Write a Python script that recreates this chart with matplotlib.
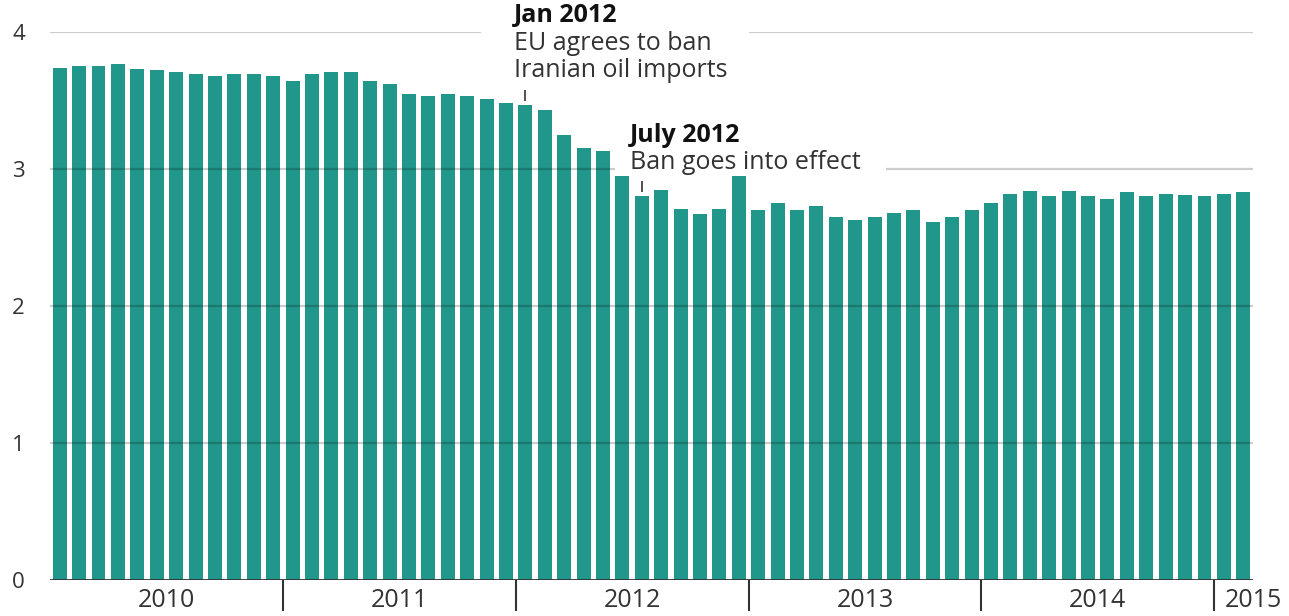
import numpy as np
import matplotlib
matplotlib.use('Agg')
import matplotlib.pyplot as plt

plt.rcParams['font.family'] = ['Open Sans', 'DejaVu Sans']

# monthly values, Jan 2010 .. Feb 2015 (million barrels per day)
months = [f'{y}-{m:02d}' for y in range(2010, 2016) for m in range(1, 13)][:62]
values = [
    3.74, 3.75, 3.75, 3.77, 3.73, 3.72, 3.71, 3.69, 3.68, 3.69, 3.69, 3.68,  # 2010
    3.64, 3.69, 3.71, 3.71, 3.64, 3.62, 3.55, 3.53, 3.55, 3.53, 3.51, 3.48,  # 2011
    3.47, 3.43, 3.25, 3.15, 3.13, 2.95, 2.80, 2.85, 2.71, 2.67, 2.71, 2.95,  # 2012
    2.70, 2.75, 2.70, 2.73, 2.65, 2.63, 2.65, 2.68, 2.70, 2.61, 2.65, 2.70,  # 2013
    2.75, 2.82, 2.84, 2.80, 2.84, 2.80, 2.78, 2.83, 2.80, 2.82, 2.81, 2.80,  # 2014
    2.82, 2.83,                                                              # 2015
]
years = ['2010', '2011', '2012', '2013', '2014', '2015']
year_label_pos = [5.5, 17.5, 29.5, 41.5, 53.5, 61.5]
year_bounds = [11.5, 23.5, 35.5, 47.5, 59.5]
yticks = [0, 1, 2, 3, 4]

notes = [
    ('2012-01', 'Jan 2012', ['EU agrees to ban', 'Iranian oil imports']),
    ('2012-07', 'July 2012', ['Ban goes into effect']),
]

teal = '#21968a'
ink = '#333333'

fig = plt.figure(figsize=(12.89, 6.16), dpi=100)
ax = fig.add_axes([50 / 1289, 1 - 580 / 616, 1203 / 1289, 548 / 616])

x = np.arange(len(values))
ax.bar(x, values, width=0.72, color=teal, zorder=2)

ax.set_xlim(-0.5, len(values) - 0.5)
ax.set_ylim(0, 4)

# gridlines, broken where the notes sit
grid_kw = dict(color='black', alpha=0.2, linewidth=1.6, zorder=3)
ax.hlines(4, -0.5, 21.7, **grid_kw)
ax.hlines(4, 35.5, 61.5, **grid_kw)
ax.hlines(3, -0.5, 28.6, **grid_kw)
ax.hlines(3, 42.6, 61.5, **grid_kw)
for yv in (1, 2):
    ax.hlines(yv, -0.5, 61.5, **grid_kw)
ax.axhline(0, color=ink, linewidth=2, zorder=4)

for s in ax.spines.values():
    s.set_visible(False)

ax.set_yticks(yticks)
ax.set_yticklabels([str(v) for v in yticks], fontsize=16, color=ink)
ax.tick_params(axis='y', length=0, pad=18)

ax.set_xticks(year_label_pos)
ax.set_xticklabels(years, fontsize=18, color=ink)
ax.set_xticks(year_bounds, minor=True)
ax.tick_params(axis='x', which='major', length=0, pad=6)
ax.tick_params(axis='x', which='minor', length=22, width=1.5, color=ink)

# event annotations
for month, head, lines in notes:
    i = months.index(month)
    v = values[i]
    ax.vlines(i, v + 0.03, v + 0.11, color=ink, linewidth=1.2, zorder=5)
    tx = i - 0.6
    base = v + 0.2 + 0.2 * len(lines)
    ax.text(tx, base, head, fontsize=18, fontweight='bold', color='#111111',
            va='baseline', ha='left', clip_on=False, zorder=6)
    for k, line in enumerate(lines):
        ax.text(tx, base - 0.2 * (k + 1), line, fontsize=18, color=ink,
                va='baseline', ha='left', clip_on=False, zorder=6)

fig.savefig('out.png', dpi=100)
